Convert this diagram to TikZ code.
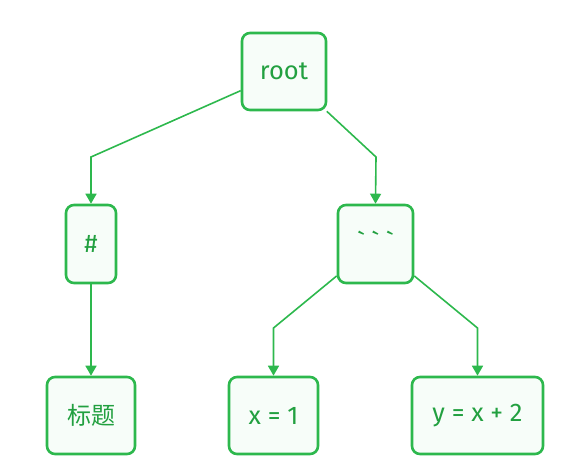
\documentclass[tikz,border=0pt]{standalone}
\usepackage{fontspec}
\setmainfont{Fira Sans}
\newfontfamily\cjk{Noto Sans CJK SC}
\usetikzlibrary{arrows.meta}
\definecolor{edge}{HTML}{2DB84D}
\definecolor{txt}{HTML}{22A040}
\definecolor{bg}{HTML}{F7FDF9}
\begin{document}
\begin{tikzpicture}[x=1pt,y=-1pt,
  box/.style={draw=edge,line width=2.6pt,rounded corners=8pt,fill=bg,text=txt,
    font=\fontsize{25.5}{28}\selectfont,inner sep=0pt,anchor=center},
  conn/.style={draw=edge,line width=1.6pt,-{Triangle[length=10pt,width=11pt]}}]
\useasboundingbox (0,0) rectangle (568,472);
\node[box,minimum width=84pt,minimum height=77pt] (root) at (284,71.5) {root};
\node[box,minimum width=50pt,minimum height=78pt] (hash) at (91,244) {\#};
\node[box,minimum width=75pt,minimum height=78pt] (code) at (375.5,244) {\raisebox{6pt}{\textasciigrave\ \textasciigrave\ \textasciigrave}};
\node[box,minimum width=88pt,minimum height=77pt] (title) at (91,415.5) {\fontsize{24}{28}\selectfont\cjk 标题};
\node[box,minimum width=89pt,minimum height=77pt] (x1) at (273.5,415.5) {x = 1};
\node[box,minimum width=131pt,minimum height=77pt] (y2) at (477.5,415.5) {y = x + 2};
\coordinate (b1) at (91,157);
\coordinate (b2) at (376,157);
\coordinate (b3) at (273.5,328);
\coordinate (b4) at (477.5,328);
\draw[conn] (root) -- (b1) -- (hash);
\draw[conn] (root) -- (b2) -- (code.north);
\draw[conn] (hash) -- (title);
\draw[conn] (code) -- (b3) -- (x1);
\draw[conn] (code) -- (b4) -- (y2);
\end{tikzpicture}
\end{document}
